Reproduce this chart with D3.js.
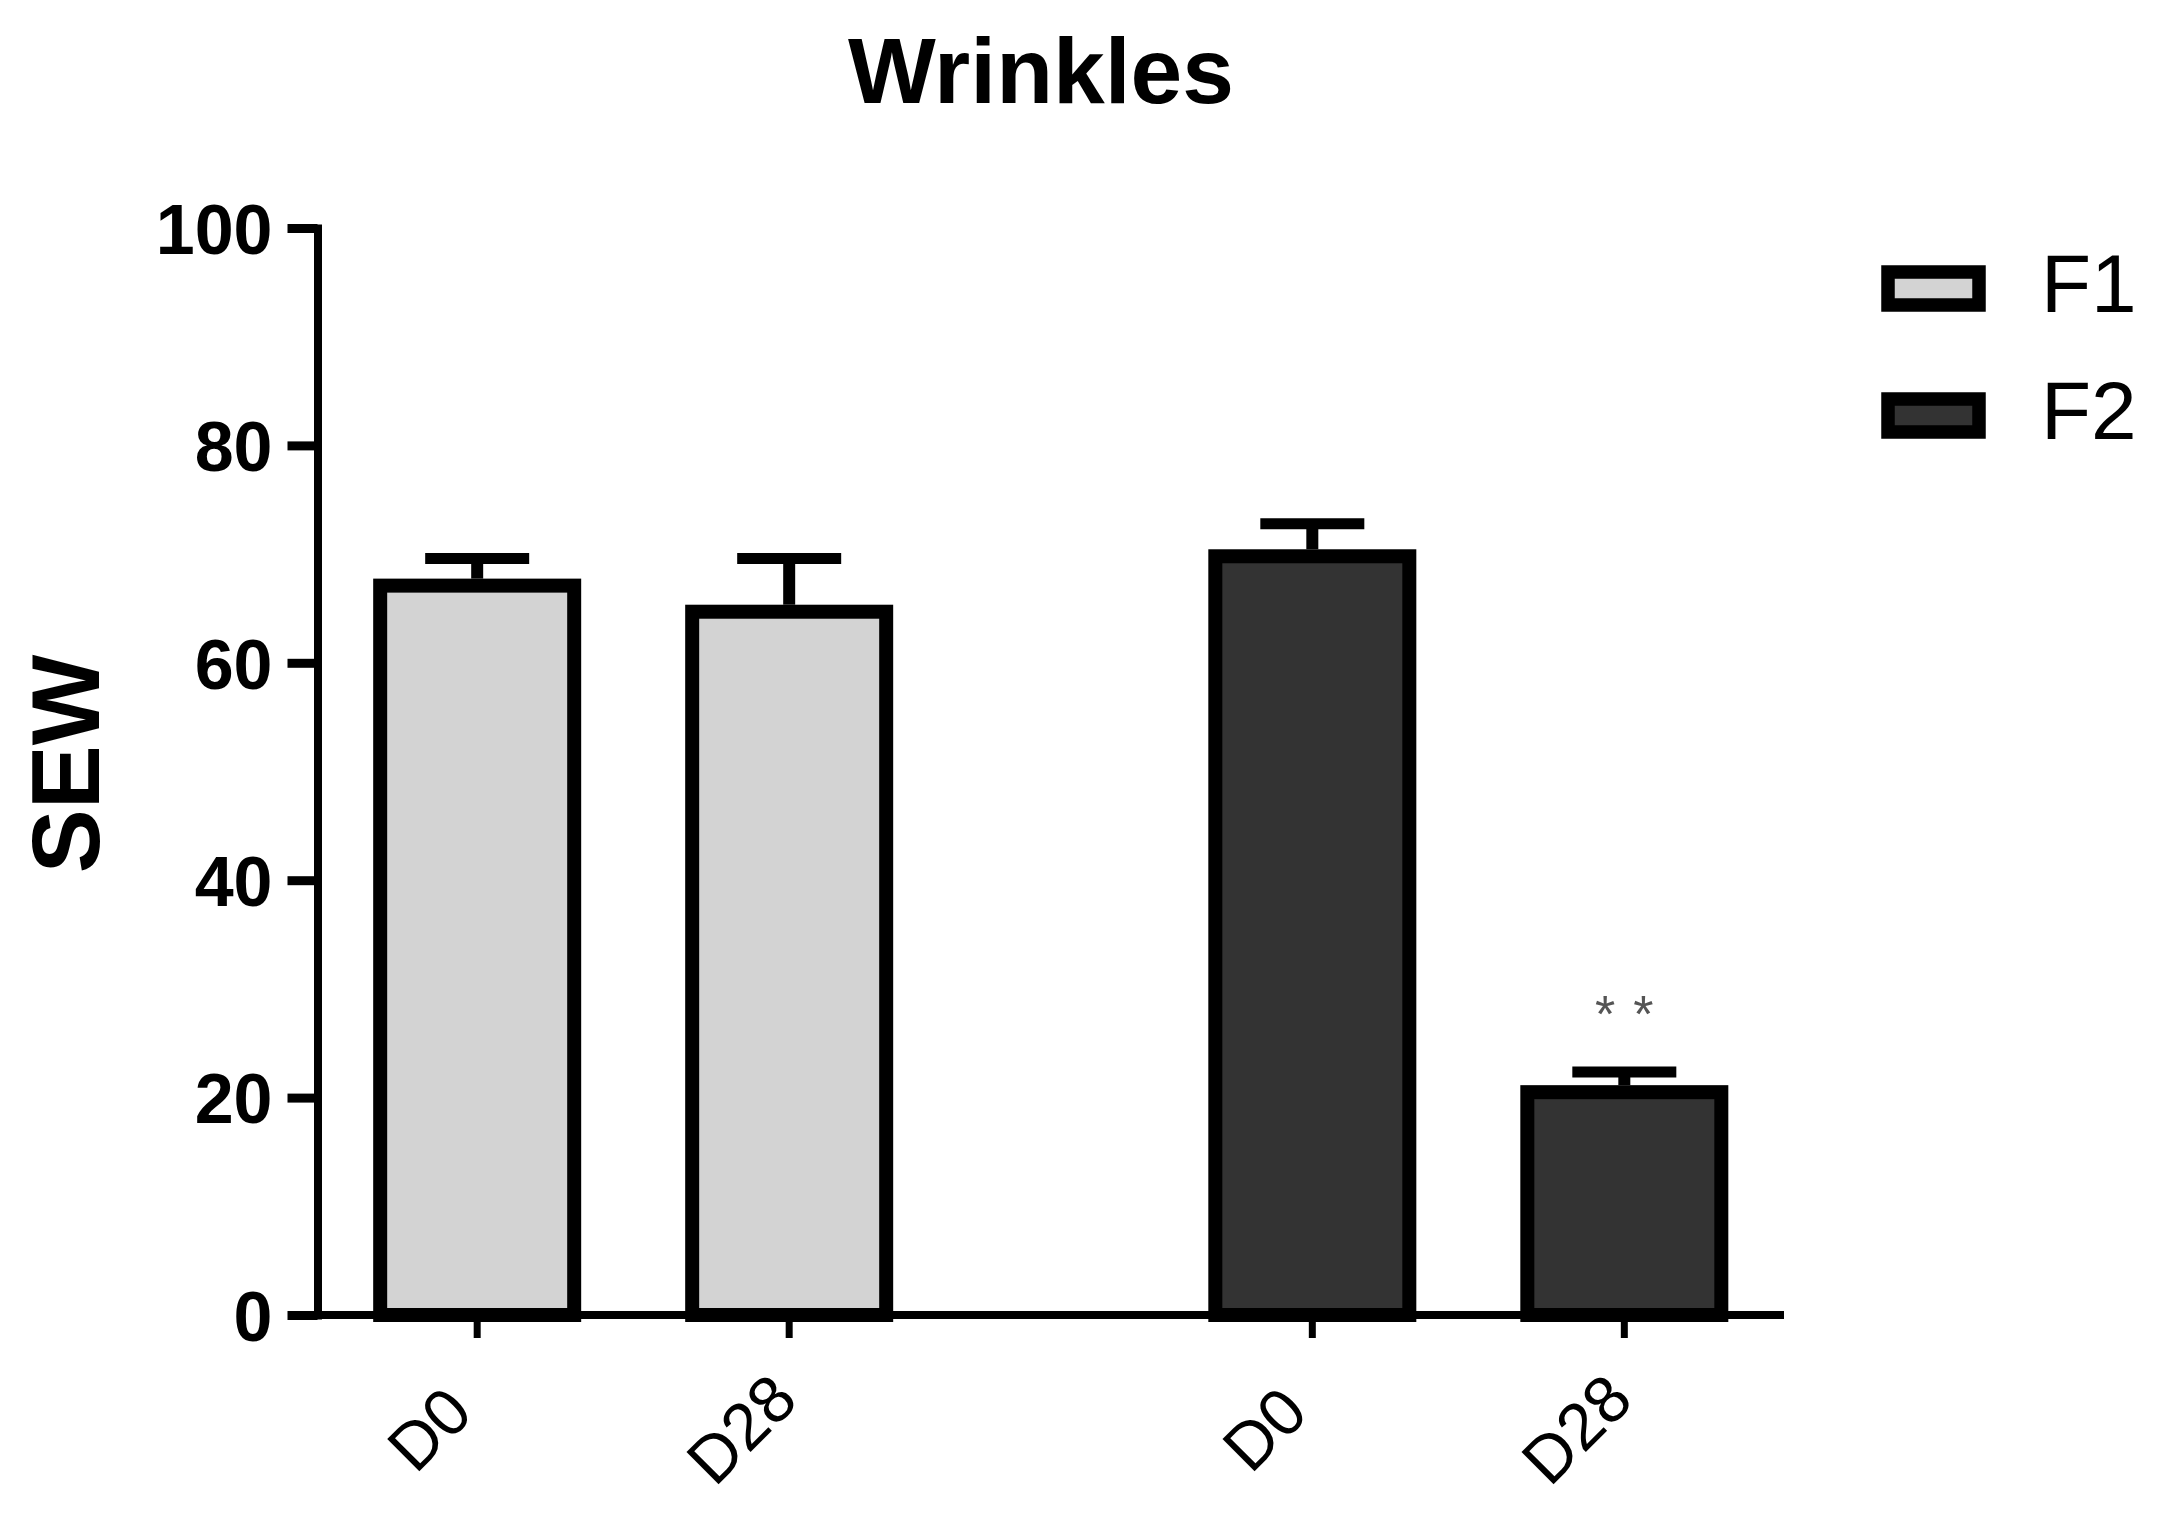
<!DOCTYPE html>
<html>
<head>
<meta charset="utf-8">
<script src="https://cdn.jsdelivr.net/npm/d3@7"></script>
<style>
  body { margin: 0; background: #fff; }
  text { font-family: "Liberation Sans", Arial, sans-serif; }
</style>
</head>
<body>
<script>
// values
var groups = ['F1', 'F2'];
var days = ['D0', 'D28'];
var meanF1 = [67.1, 64.7];
var meanF2 = [69.8, 20.5];
var semF1 = [2.5, 4.9];
var semF2 = [3.0, 1.85];
var starsF2 = ['', '**'];
var yTicks = [0, 20, 40, 60, 80, 100];
var fills = {F1: '#d3d3d3', F2: '#333333'};

var svgWidth = 2157, svgHeight = 1514;

var svg = d3.select('body').append('svg')
  .attr('width', svgWidth)
  .attr('height', svgHeight)

svg.append('rect').attr('width', svgWidth).attr('height', svgHeight).attr('fill', 'white')

var rows = [];
days.forEach(function(d, i) {
  rows.push({group: 'F1', day: d, mean: meanF1[i], sem: semF1[i], star: ''});
});
days.forEach(function(d, i) {
  rows.push({group: 'F2', day: d, mean: meanF2[i], sem: semF2[i], star: starsF2[i]});
});

var y = d3.scaleLinear().domain([0, 100]).range([1315, 228]);
var xGroup = d3.scalePoint().domain(groups).range([317.5, 1784]).padding(0.378);
var xDay = d3.scalePoint().domain(days).range([-156, 156]);

function cx(d) { return xGroup(d.group) + xDay(d.day); }

var barW = 194;

// bars
svg.selectAll('.bar').data(rows).enter().append('rect')
  .attr('class', 'bar')
  .attr('x', d => cx(d) - barW / 2)
  .attr('y', d => y(d.mean))
  .attr('width', barW)
  .attr('height', d => y(0) - y(d.mean))
  .attr('fill', d => fills[d.group])
  .attr('stroke', 'black')
  .attr('stroke-width', 14)

// error bars (upper only)
var err = svg.selectAll('.err').data(rows).enter().append('g').attr('class', 'err')
err.append('line')
  .attr('x1', d => cx(d)).attr('x2', d => cx(d))
  .attr('y1', d => y(d.mean) - 7).attr('y2', d => y(d.mean + d.sem))
  .attr('stroke', 'black').attr('stroke-width', 12)
err.append('line')
  .attr('x1', d => cx(d) - 52).attr('x2', d => cx(d) + 52)
  .attr('y1', d => y(d.mean + d.sem)).attr('y2', d => y(d.mean + d.sem))
  .attr('stroke', 'black').attr('stroke-width', 11)

svg.selectAll('.star').data(rows.filter(d => d.star)).enter().append('text')
  .attr('class', 'star')
  .attr('x', d => cx(d) + 9)
  .attr('y', d => y(d.mean + d.sem) - 40)
  .attr('text-anchor', 'middle')
  .attr('font-size', 52)
  .attr('letter-spacing', 18)
  .attr('fill', '#555')
  .text(d => d.star)

// y axis
var yAxis = d3.axisLeft(y).tickValues(yTicks).tickSize(30).tickSizeOuter(0).tickPadding(15);
var gy = svg.append('g').attr('transform', 'translate(317.5,0)').call(yAxis)
gy.select('.domain').attr('stroke-width', 8).attr('stroke-linecap', 'square')
gy.selectAll('.tick line').attr('stroke-width', 9)
gy.selectAll('.tick text')
  .attr('font-family', '"Liberation Sans", Arial, sans-serif')
  .attr('font-size', 70).attr('font-weight', 'bold').attr('fill', 'black')
  .attr('dy', '0.36em')

// x axis
var gx = svg.append('g')
gx.append('line')
  .attr('x1', xGroup.range()[0]).attr('x2', xGroup.range()[1])
  .attr('y1', y(0)).attr('y2', y(0))
  .attr('stroke', 'black').attr('stroke-width', 8)
gx.selectAll('.xtick').data(rows).enter().append('line')
  .attr('class', 'xtick')
  .attr('x1', d => cx(d)).attr('x2', d => cx(d))
  .attr('y1', y(0)).attr('y2', y(0) + 23)
  .attr('stroke', 'black').attr('stroke-width', 7)
gx.selectAll('.xlabel').data(rows).enter().append('text')
  .attr('class', 'xlabel')
  .attr('transform', d => `translate(${cx(d) - 48},${y(0) + 114}) rotate(-45)`)
  .attr('text-anchor', 'middle')
  .attr('dominant-baseline', 'central')
  .attr('font-size', 66)
  .text(d => d.day)

// title + y label
svg.append('text')
  .attr('x', 1041).attr('y', 103)
  .attr('text-anchor', 'middle')
  .attr('font-size', 93).attr('font-weight', 'bold')
  .text('Wrinkles')

svg.append('text')
  .attr('transform', 'translate(99,764) rotate(-90)')
  .attr('text-anchor', 'middle')
  .attr('font-size', 96).attr('font-weight', 'bold')
  .text('SEW')

// legend
var legend = svg.selectAll('.legend').data(groups).enter().append('g')
  .attr('class', 'legend')
  .attr('transform', (d, i) => `translate(1888,${272 + i * 127})`)
legend.append('rect')
  .attr('width', 91).attr('height', 33)
  .attr('fill', d => fills[d])
  .attr('stroke', 'black').attr('stroke-width', 13.5)
legend.append('text')
  .attr('x', 153).attr('y', 40)
  .attr('font-size', 82)
  .text(d => d)
</script>
</body>
</html>
